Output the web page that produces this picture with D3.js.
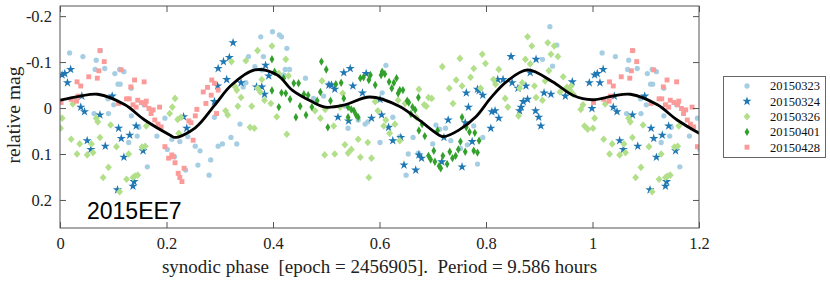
<!DOCTYPE html>
<html>
<head>
<meta charset="utf-8">
<script src="https://cdn.jsdelivr.net/npm/d3@7"></script>
<style>
  html, body { margin: 0; padding: 0; background: #fff; }
  svg { display: block; }
</style>
</head>
<body>
<svg id="chart" width="830" height="281"></svg>
<script>
// ---------------- DATA ----------------
const seriesNames = ["20150323", "20150324", "20150326", "20150401", "20150428"];

const phase0323 = [0.018,0.043,0.076,0.068,0.066,0.084,0.103,0.112,0.120,0.109,0.113,0.134,0.090,0.101,0.064,0.091,0.134,0.158,0.148,0.145,0.129,0.182,0.164,0.2015,
  0.377,0.399,0.354,0.382,0.366,0.379,0.349,0.344,0.197,0.210,0.225,0.240,0.254,0.263,0.297,0.305,0.332,0.321,0.338,0.290,0.215,0.236,0.259,0.283,0.280,
  0.412,0.416,0.426,0.423,0.431,0.420,0.461,0.495,0.476,0.505,0.536,0.541,0.573,0.578,0.601,0.560,
  0.612,0.605,0.625,0.638,0.663,0.706,0.724,0.713,0.700,0.734,0.654,0.650,0.673,0.752,0.777,0.765,0.794,0.784,
  0.920,0.933,0.906,0.925];
const mag0323 = [-0.120,-0.112,-0.125,-0.104,-0.084,-0.086,-0.075,-0.084,-0.079,-0.052,-0.052,-0.043,-0.020,-0.007,0.012,0.012,0.017,-0.007,0.042,0.061,0.075,0.061,0.128,0.090,
  -0.155,-0.166,-0.112,-0.112,-0.090,-0.083,-0.055,-0.046,0.022,0.068,0.073,0.062,0.083,0.093,0.083,0.078,0.078,0.064,0.035,0.020,0.106,0.135,0.124,0.113,0.146,
  -0.159,-0.155,-0.130,-0.084,-0.084,-0.072,-0.065,-0.026,-0.021,-0.052,-0.004,0.044,0.035,0.030,0.075,0.026,
  -0.093,-0.033,0.020,0.062,0.064,0.037,0.044,0.046,0.078,0.071,0.100,0.146,0.098,0.088,0.039,0.080,0.064,0.122,
  -0.177,-0.137,-0.106,-0.091];

const phase0324 = [0.004,0.009,0.020,0.014,0.041,0.039,0.046,0.075,0.098,0.110,0.115,0.131,0.143,0.051,0.058,0.085,0.156,0.120,0.139,0.137,0.108,
  0.325,0.318,0.307,0.297,0.313,0.296,0.290,0.232,0.238,0.340,0.386,0.369,0.379,0.384,0.392,
  0.533,0.545,0.550,0.505,0.510,0.516,0.568,0.575,0.522,0.542,0.585,0.601,
  0.604,0.617,0.625,0.640,0.646,0.668,0.674,0.679,0.717,0.729,0.721,0.755,0.767,0.763,0.761,0.774,0.787,0.784,0.794,0.809,
  0.847,0.894,0.849,0.860,0.875,0.883,0.822,0.832,0.878,0.870,0.866,0.863,0.811,0.817,0.824,0.893,0.899,0.903,0.909,0.922,0.949,0.962,0.994,0.999];
const mag0324 = [-0.072,-0.075,-0.084,-0.055,-0.026,-0.002,0.008,0.015,-0.026,0.044,0.066,0.059,0.039,0.071,0.090,0.083,0.093,0.107,0.160,0.170,0.178,
  -0.142,-0.110,-0.101,-0.086,-0.062,-0.048,-0.014,0.019,0.044,-0.055,-0.093,-0.046,-0.046,-0.030,-0.070,
  -0.077,-0.086,-0.048,-0.050,-0.050,-0.041,-0.033,-0.075,0.020,0.028,0.022,-0.019,
  0.015,0.042,0.071,0.064,0.124,0.135,0.102,0.109,0.117,0.026,0.064,0.128,-0.002,-0.033,0.032,0.073,-0.038,-0.041,-0.028,0.044,
  -0.112,-0.106,-0.055,-0.043,-0.048,-0.077,-0.062,-0.062,-0.019,-0.014,-0.002,0.006,0.008,0.006,0.022,0.006,0.020,0.039,-0.033,-0.030,-0.026,-0.057,-0.055,0.001];

const phase0326 = [0.004,0.001,0.024,0.068,0.071,0.095,0.021,0.037,0.075,0.059,0.032,0.051,0.062,0.106,0.129,0.160,0.154,0.091,0.081,0.125,0.141,0.146,0.137,0.112,0.162,0.206,
  0.216,0.211,0.221,0.227,0.223,0.322,0.349,0.371,0.398,0.329,0.332,0.340,0.360,0.334,0.311,0.315,0.384,0.396,0.371,0.376,0.379,0.357,0.365,0.407,
  0.424,0.411,0.429,0.492,0.426,0.489,0.514,0.479,0.498,0.526,0.531,0.592,0.597,0.608,0.560,0.578,0.535,0.547,0.541,0.516,0.497,0.564,0.585,0.580,
  0.718,0.751,0.793,0.799,0.777,0.744,0.771,0.731,0.790,0.755,0.674,0.692,0.698,0.738,0.684,0.688,0.612,0.629,0.619,0.638,0.635,0.648,0.669,
  0.878,0.886,0.916,0.928,0.922,0.935,0.874,0.883,0.918,0.824,0.814,0.818,0.868,0.863,0.891,0.911,0.945,0.952,0.960,0.958,0.939,0.964,0.836,0.894,0.906,0.841,0.861,0.982,0.978,0.985,0.991];
const mag0326 = [0.022,0.044,-0.009,0.022,0.030,0.037,0.068,0.078,0.064,0.078,0.100,0.102,0.097,0.084,0.100,0.083,0.085,0.129,0.151,0.155,0.148,0.146,0.151,0.182,0.039,0.012,
  -0.021,-0.002,0.025,0.020,0.055,-0.101,-0.103,-0.125,-0.135,-0.046,-0.039,-0.023,-0.004,-0.004,0.006,0.015,-0.017,-0.010,-0.043,-0.035,-0.062,0.042,0.044,0.019,
  -0.106,-0.075,-0.070,-0.059,0.057,0.022,0.039,0.006,0.003,-0.002,-0.032,-0.014,0.006,0.039,0.068,0.075,0.080,0.090,0.098,0.100,0.102,0.107,0.109,0.151,
  -0.090,-0.108,-0.117,-0.097,-0.086,-0.061,-0.067,-0.043,-0.043,-0.048,-0.041,-0.023,-0.021,-0.010,-0.007,-0.004,0.026,0.035,0.055,0.071,-0.017,-0.010,0.020,
  -0.155,-0.135,-0.142,-0.135,-0.117,-0.112,-0.106,-0.096,-0.081,-0.084,-0.062,-0.052,-0.055,-0.043,-0.048,-0.059,-0.068,-0.045,-0.048,-0.038,-0.035,-0.030,-0.021,-0.023,-0.017,-0.002,0.017,-0.007,0.003,0.039,0.046];

const phase0401 = [0.398,0.403,0.420,0.439,0.448,0.398,0.416,0.424,0.432,0.411,0.443,0.451,0.462,0.458,0.466,0.473,0.483,0.491,0.500,0.489,0.508,0.518,0.528,0.533,0.541,0.547,0.552,0.556,0.560,0.541,0.503,0.564,0.570,0.580,0.583,0.592,
  0.605,0.610,0.603,0.618,0.627,0.632,0.623,0.638,0.644,0.635,0.652,0.655,0.662,0.667,0.659,0.673,0.680,0.674,0.685,0.709,0.702,0.692,0.696,0.704,0.712,0.715,0.719,0.727,0.732,0.737,0.743,0.748,0.761,0.752,0.755,0.763,0.769,0.779,0.777,0.784,0.787];
const mag0401 = [-0.106,-0.079,-0.065,-0.054,-0.054,-0.038,-0.033,-0.032,-0.019,-0.002,0.020,-0.004,0.015,-0.030,-0.028,-0.002,-0.016,-0.101,-0.084,-0.035,-0.016,-0.052,-0.055,-0.021,-0.002,0.003,0.006,0.015,0.020,0.020,0.042,-0.065,-0.067,-0.061,-0.072,-0.050,
  -0.079,-0.074,-0.072,-0.057,-0.055,-0.065,-0.043,-0.039,-0.039,-0.032,-0.016,-0.012,-0.002,0.004,0.013,-0.023,0.035,0.049,0.061,0.049,0.093,0.104,0.112,0.117,0.126,0.131,0.104,0.122,0.095,0.109,0.104,0.090,0.095,0.073,0.020,0.042,0.052,0.054,0.093,0.097,0.071];

const phase0428 = [0.002,0.075,0.083,0.054,0.070,0.032,0.039,0.073,0.115,0.133,0.140,0.158,0.034,0.021,0.031,0.125,0.130,0.110,0.146,0.153,0.162,0.160,0.137,0.143,0.167,0.175,0.187,0.171,0.178,0.184,0.190,0.197,0.204,
  0.285,0.290,0.277,0.269,0.284,0.274,0.297,0.257,0.254,0.294,0.242,0.246,0.250,0.210,0.213,0.216,0.233,0.222,0.225,0.229];
const mag0428 = [-0.012,-0.125,-0.101,-0.068,-0.065,-0.057,-0.048,-0.081,-0.083,-0.046,-0.061,-0.057,-0.026,-0.019,-0.015,-0.020,-0.020,-0.010,-0.017,-0.012,-0.015,-0.007,-0.007,-0.002,0.001,0.004,-0.002,0.012,0.026,0.035,0.041,0.084,0.109,
  -0.061,-0.054,-0.045,-0.035,-0.028,-0.010,-0.039,0.003,0.017,0.012,0.028,0.032,0.070,0.102,0.106,0.119,0.131,0.142,0.151,0.160];

// fitted light curve
const fitPhase = [0,0.038,0.071,0.122,0.159,0.207,0.216,0.254,0.291,0.322,0.366,0.408,0.436,0.473,0.498,0.535,0.582,0.637,0.674,0.712,0.721,0.749,0.781,0.809,0.838,0.878,0.925,0.963,1.0];
const fitMag   = [-0.017,-0.026,-0.030,-0.007,0.026,0.059,0.064,0.043,-0.007,-0.050,-0.083,-0.072,-0.039,-0.014,-0.002,-0.007,-0.024,-0.004,0.026,0.059,0.062,0.048,0.019,-0.022,-0.057,-0.083,-0.057,-0.028,-0.018];

const xTicks = [0,0.2,0.4,0.6,0.8,1,1.2];
const xTickLabels = ["0","0.2","0.4","0.6","0.8","1","1.2"];
const yTicks = [-0.2,-0.1,0,0.1,0.2];
const yTickLabels = ["-0.2","-0.1","0","0.1","0.2"];
const xLabel = "synodic phase  [epoch = 2456905].  Period = 9.586 hours";
const yLabel = "relative mag";
const objectName = "2015EE7";

// ---------------- DRAW ----------------
const svg = d3.select("#chart");
const L = 60, R = 699, T = 6, B = 228;
const x = d3.scaleLinear().domain([0, 1.2]).range([L, R]);
const y = d3.scaleLinear().domain([-0.222, 0.261]).range([T, B]);

const colors = ["#a6cee3", "#1f78b4", "#b2df8a", "#33a02c", "#fb9a99"];
const serif = "'Liberation Serif', 'Times New Roman', serif";

svg.append("defs").append("clipPath").attr("id", "plotclip")
  .append("rect").attr("x", L).attr("y", T).attr("width", R - L).attr("height", B - T);

function buildPoints(ph, mg) {
  const pts = [];
  ph.forEach((p, i) => {
    pts.push([p, mg[i]]);
    if (p < 0.21) pts.push([p + 1, mg[i]]);
  });
  return pts;
}

const markerPath = [
  d3.symbol().type(d3.symbolCircle).size(22)(),
  d3.symbol().type(d3.symbolStar).size(26)(),
  d3.symbol().type(d3.symbolSquare).size(24)(),
  d3.symbol().type(d3.symbolSquare).size(18)(),
  d3.symbol().type(d3.symbolSquare).size(24)()
];
const markerTransform = ["", "", " scale(1,1.1) rotate(45)", " scale(0.8,1.4) rotate(45)", ""];

const data = [
  buildPoints(phase0323, mag0323),
  buildPoints(phase0324, mag0324),
  buildPoints(phase0326, mag0326),
  buildPoints(phase0401, mag0401),
  buildPoints(phase0428, mag0428)
];

const plot = svg.append("g").attr("clip-path", "url(#plotclip)");

data.forEach((pts, si) => {
  plot.append("g").selectAll("path").data(pts).enter().append("path")
    .attr("d", markerPath[si])
    .attr("transform", d => `translate(${x(d[0])},${y(d[1])})` + markerTransform[si])
    .attr("fill", colors[si]);
});

// fitted curve (one period + repeated start)
const fitPts = fitPhase.map((p, i) => [p, fitMag[i]]);
fitPhase.forEach((p, i) => { if (p > 0 && p < 0.3) fitPts.push([p + 1, fitMag[i]]); });
const line = d3.line().x(d => x(d[0])).y(d => y(d[1])).curve(d3.curveCatmullRom.alpha(0.5));
plot.append("path").datum(fitPts).attr("d", line)
  .attr("fill", "none").attr("stroke", "#000").attr("stroke-width", 2.8);

// axes (inward ticks)
const axisColor = "#555";
function styleAxis(g) {
  g.select(".domain").remove();
  g.selectAll(".tick line").attr("stroke", axisColor);
  g.selectAll(".tick text").attr("fill", "#222").style("font-family", serif).style("font-size", "16.5px");
}
svg.append("g").attr("transform", `translate(0,${B})`)
  .call(d3.axisBottom(x).tickValues(xTicks).tickFormat((d, i) => xTickLabels[i]).tickSize(-6).tickPadding(9))
  .call(styleAxis);
svg.append("g").attr("transform", `translate(0,${T})`)
  .call(d3.axisTop(x).tickValues(xTicks).tickFormat("").tickSize(-6))
  .call(styleAxis);
svg.append("g").attr("transform", `translate(${L},0)`)
  .call(d3.axisLeft(y).tickValues(yTicks).tickFormat((d, i) => yTickLabels[i]).tickSize(-6).tickPadding(8))
  .call(styleAxis);
svg.append("g").attr("transform", `translate(${R},0)`)
  .call(d3.axisRight(y).tickValues(yTicks).tickFormat("").tickSize(-6))
  .call(styleAxis);

svg.append("rect").attr("x", L).attr("y", T).attr("width", R - L).attr("height", B - T)
  .attr("fill", "none").attr("stroke", axisColor).attr("stroke-width", 1);

// labels
svg.append("text").attr("x", (L + R) / 2).attr("y", 273).attr("text-anchor", "middle")
  .style("white-space", "pre").attr("xml:space", "preserve")
  .style("font-family", serif).style("font-size", "19px").attr("fill", "#222").text(xLabel);
svg.append("text").attr("transform", `translate(20,${(T + B) / 2 - 2}) rotate(-90)`).attr("text-anchor", "middle")
  .style("font-family", serif).style("font-size", "19.5px").attr("fill", "#222").text(yLabel);
svg.append("text").attr("x", 87).attr("y", 218.5)
  .style("font-family", "'Liberation Sans', Arial, sans-serif").style("font-size", "23px").attr("fill", "#000").text(objectName);

// legend
const lg = svg.append("g");
lg.append("rect").attr("x", 723.5).attr("y", 76.5).attr("width", 102).attr("height", 81)
  .attr("fill", "#fff").attr("stroke", "#666").attr("stroke-width", 1);
seriesNames.forEach((name, i) => {
  const cy = 86 + i * 15.3;
  lg.append("path").attr("d", markerPath[i])
    .attr("transform", `translate(747,${cy})` + markerTransform[i]).attr("fill", colors[i]);
  lg.append("text").attr("x", 770).attr("y", cy + 4.3)
    .style("font-family", serif).style("font-size", "12.5px").attr("fill", "#111").text(name);
});
</script>
</body>
</html>
